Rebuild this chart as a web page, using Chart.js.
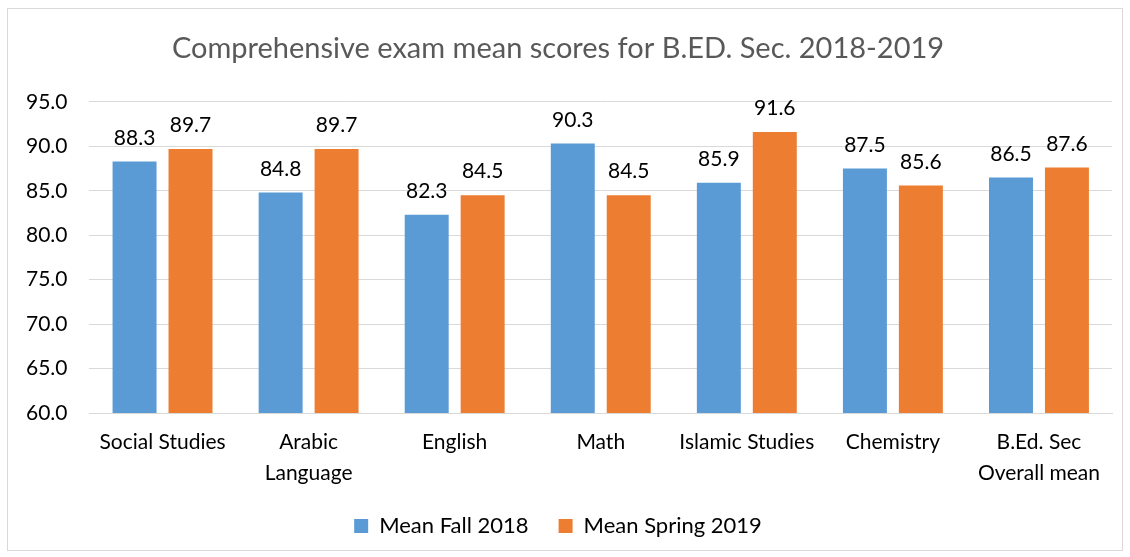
<!DOCTYPE html>
<html>
<head>
<meta charset="utf-8">
<script src="https://cdn.jsdelivr.net/npm/chart.js@4/dist/chart.umd.min.js"></script>
<style>
  body { margin: 0; background: #fff; }
  #wrap { position: absolute; left: 7px; top: 8px; width: 1116px; height: 543px; border: 1px solid #d9d9d9; box-sizing: border-box; }
</style>
</head>
<body>
<div id="wrap"><canvas id="chart"></canvas></div>
<script>
  // chart data
  const categories = ['Social Studies', ['Arabic', 'Language'], 'English', 'Math', 'Islamic Studies', 'Chemistry', ['B.Ed. Sec', 'Overall mean']];
  const fall2018 = [88.3, 84.8, 82.3, 90.3, 85.9, 87.5, 86.5];
  const spring2019 = [89.7, 89.7, 84.5, 84.5, 91.6, 85.6, 87.6];
  const yTicks = { min: 60, max: 95, step: 5 };

  const font = 'Lato, "Noto Sans", sans-serif';

  // draw the value above each bar
  const valueLabels = {
    id: 'valueLabels',
    afterDatasetsDraw(chart) {
      const ctx = chart.ctx;
      ctx.save();
      ctx.font = '21px ' + font;
      ctx.fillStyle = '#000';
      ctx.textAlign = 'center';
      ctx.textBaseline = 'bottom';
      chart.data.datasets.forEach((ds, i) => {
        chart.getDatasetMeta(i).data.forEach((bar, j) => {
          ctx.fillText(ds.data[j].toFixed(1), bar.x, bar.y - 13);
        });
      });
      ctx.restore();
    }
  };

  new Chart(document.getElementById('chart'), {
    type: 'bar',
    data: {
      labels: categories,
      datasets: [
        { label: 'Mean Fall 2018', data: fall2018, backgroundColor: '#5B9BD5' },
        { label: 'Mean Spring 2019', data: spring2019, backgroundColor: '#ED7D31' }
      ]
    },
    options: {
      responsive: true,
      maintainAspectRatio: false,
      animation: false,
      categoryPercentage: 0.766,
      barPercentage: 0.786,
      layout: { padding: { left: -4, right: 10, top: 0, bottom: 3 } },
      plugins: {
        title: {
          display: true,
          text: 'Comprehensive exam mean scores for B.ED. Sec. 2018-2019',
          color: '#595959',
          font: { family: font, size: 29, weight: 'normal' },
          padding: { top: 22, bottom: 36 }
        },
        legend: {
          position: 'bottom',
          labels: {
            color: '#000',
            font: { family: font, size: 22 },
            boxWidth: 14,
            boxHeight: 14,
            padding: 30
          }
        },
        tooltip: { enabled: false }
      },
      scales: {
        x: {
          grid: { display: false },
          border: { color: '#d9d9d9', width: 1 },
          ticks: { color: '#000', font: { family: font, size: 21, lineHeight: 1.45 }, maxRotation: 0, autoSkip: false, padding: 6 },
          // tighten the gap between the category labels and the legend
          afterFit(axis) { axis.height -= 9; }
        },
        y: {
          min: yTicks.min,
          max: yTicks.max,
          ticks: {
            stepSize: yTicks.step,
            color: '#000',
            font: { family: font, size: 21 },
            padding: 22,
            callback: v => v.toFixed(1)
          },
          grid: { color: '#d9d9d9', lineWidth: 1, drawTicks: false },
          border: { display: false }
        }
      }
    },
    plugins: [valueLabels]
  });
</script>
</body>
</html>
